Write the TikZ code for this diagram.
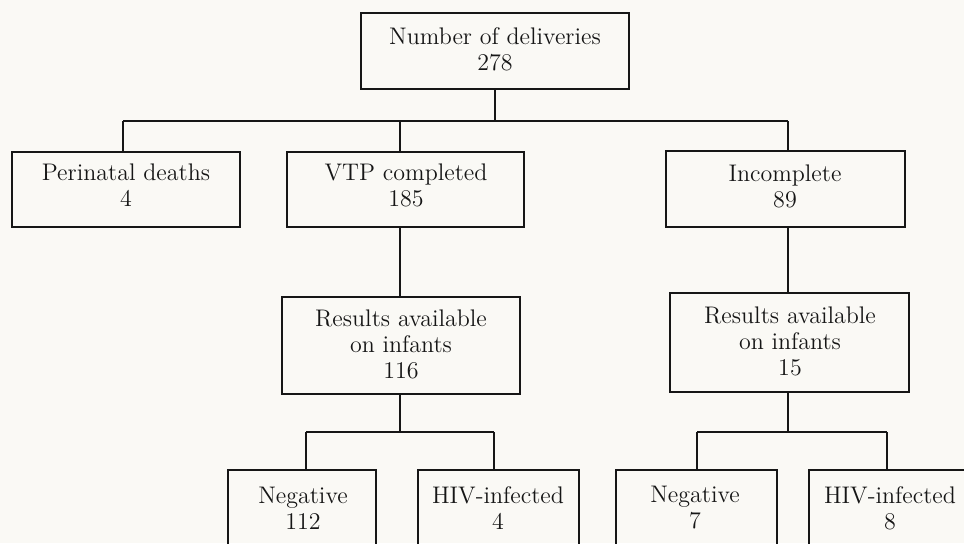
\documentclass[tikz,border=0pt]{standalone}
\definecolor{paper}{RGB}{250,249,245}
\definecolor{ink}{RGB}{22,22,22}
\tikzset{
  boxnode/.style={draw=ink, line width=0.8pt, rectangle, inner sep=0pt},
  txt/.style={text=ink, align=center, inner sep=0pt, font=\fontsize{12}{13}\selectfont},
  link/.style={draw=ink, line width=0.8pt}
}
\begin{document}
\begin{tikzpicture}[x=0.5pt,y=-0.5pt]
\clip (0,0) rectangle (964,543);
\fill[paper] (0,0) rectangle (964,543);
% boxes
\node[boxnode, minimum width=134pt, minimum height=38pt] (top) at (495,51) {};
\node[boxnode, minimum width=114pt, minimum height=37.5pt] (peri) at (126,189.5) {};
\node[boxnode, minimum width=118.5pt, minimum height=37.5pt] (vtp) at (405.5,189.5) {};
\node[boxnode, minimum width=119.5pt, minimum height=38pt] (inc) at (785.5,189) {};
\node[boxnode, minimum width=119pt, minimum height=48.5pt] (res1) at (401,345.5) {};
\node[boxnode, minimum width=119.5pt, minimum height=49.5pt] (res2) at (789.5,342.5) {};
\node[boxnode, minimum width=74pt, minimum height=45pt] (neg1) at (302,515) {};
\node[boxnode, minimum width=80.5pt, minimum height=45pt] (hiv1) at (498.5,515) {};
\node[boxnode, minimum width=80.5pt, minimum height=45pt] (neg2) at (696.5,515) {};
\node[boxnode, minimum width=78pt, minimum height=45pt] (hiv2) at (887,515) {};
% texts
\node[txt] (topt) at (495,49) {Number of deliveries\\278};
\node[txt] (perit) at (126,185) {Perinatal deaths\\4};
\node[txt] (vtpt) at (406,185) {VTP completed\\185};
\node[txt] (inct) at (785,186) {Incomplete\\89};
\node[txt] (res1t) at (401,344) {Results available\\on infants\\116};
\node[txt] (res2t) at (790,341) {Results available\\on infants\\15};
\node[txt] (neg1t) at (303,508) {Negative\\112};
\node[txt] (hiv1t) at (498,508) {HIV-infected\\4};
\node[txt] (neg2t) at (695,508) {Negative\\7};
\node[txt] (hiv2t) at (890,508) {HIV-infected\\8};
% junctions
\coordinate (b1c) at (495,121);
\coordinate (b1l) at (123,121);
\coordinate (b1m) at (400,121);
\coordinate (b1r) at (788,121);
\coordinate (b2c) at (400,432);
\coordinate (b2l) at (306,432);
\coordinate (b2r) at (494,432);
\coordinate (b3c) at (788,432);
\coordinate (b3l) at (697,432);
\coordinate (b3r) at (887,432);
% connectors level 1
\draw[link] (b1c |- top.south) -- (b1c);
\draw[link] (b1l) -- (b1r);
\draw[link] (b1l) -- (b1l |- peri.north);
\draw[link] (b1m) -- (b1m |- vtp.north);
\draw[link] (b1r) -- (b1r |- inc.north);
% vtp / incomplete to results
\draw[link] (b1m |- vtp.south) -- (b1m |- res1.north);
\draw[link] (b1r |- inc.south) -- (b1r |- res2.north);
% level 3 left
\draw[link] (b2c |- res1.south) -- (b2c);
\draw[link] (b2l) -- (b2r);
\draw[link] (b2l) -- (b2l |- neg1.north);
\draw[link] (b2r) -- (b2r |- hiv1.north);
% level 3 right
\draw[link] (b3c |- res2.south) -- (b3c);
\draw[link] (b3l) -- (b3r);
\draw[link] (b3l) -- (b3l |- neg2.north);
\draw[link] (b3r) -- (b3r |- hiv2.north);
\end{tikzpicture}
\end{document}
